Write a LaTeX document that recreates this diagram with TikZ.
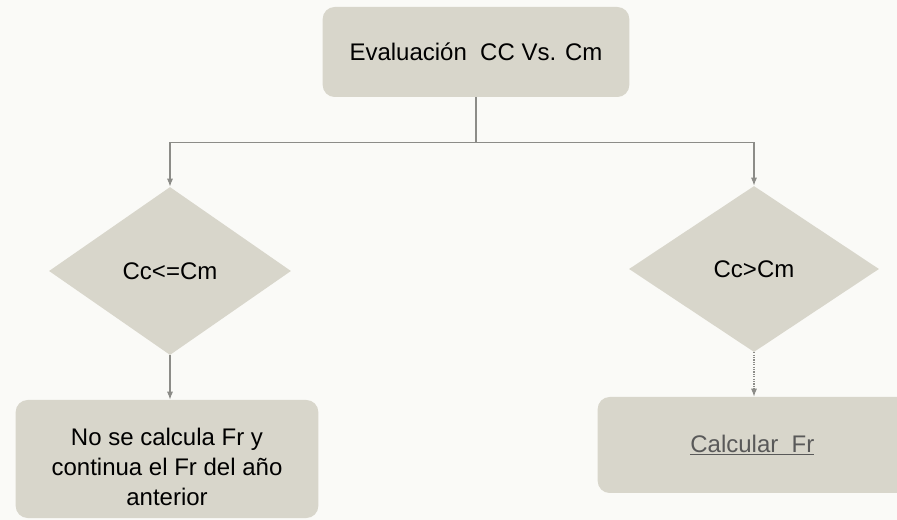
\documentclass[tikz,border=0pt]{standalone}
\usepackage{fontspec}
\setmainfont{Liberation Sans}
\usepackage{xcolor}
\usepackage{tikz}
\usetikzlibrary{shapes,shapes.geometric,arrows.meta,calc,positioning}
\tikzset{>={Latex[length=6pt,width=4.5pt]}}
\definecolor{boxfill}{RGB}{216,214,203}
\definecolor{linegray}{RGB}{140,140,136}
\definecolor{paper}{RGB}{250,250,247}
\tikzset{
  roundbox/.style={rectangle, rounded corners=9pt, fill=boxfill, inner sep=2pt, align=center,
                   font=\fontsize{18}{22.5}\selectfont},
  decision/.style={diamond, fill=boxfill, inner sep=0pt, aspect=1.45,
                   font=\fontsize{18}{22.5}\selectfont},
  boxtext/.style={align=center, inner sep=0pt, font=\fontsize{18}{22.5}\selectfont},
  link/.style={draw=linegray, line width=0.8pt},
}

\begin{document}
\begin{tikzpicture}[x=0.75pt, y=-0.75pt]
  \fill[paper] (0,0) rectangle (897,520);
  \useasboundingbox (0,0) rectangle (897,520);

  \node[roundbox, minimum width=230pt, minimum height=67.5pt] (eval) at (476,52) {Evaluación \ CC Vs. Cm};

  % two branches
  \node[decision, minimum width=181.5pt, minimum height=126pt] (menor) at (170,271) {Cc<=Cm};
  \node[decision, minimum width=187.5pt, minimum height=124.5pt] (mayor) at (754,269) {Cc>Cm};

  \node[roundbox, minimum width=227pt, minimum height=88.5pt] (sigue) at (167,459) {};
  \node[boxtext] (siguetxt) at ($(sigue.center)+(0,8)$) {No se calcula Fr y\\continua el Fr del año\\anterior};
  \node[roundbox, minimum width=245pt, minimum height=72pt, text=black!65] (calc) at (761,445)
    {\hspace*{-13pt}\underline{Calcular \ Fr}};

  \draw[link] (eval.south) -- ++(0,45) coordinate (fork);
  \draw[link,->] (fork) -| (menor.north);
  \draw[link,->] (fork) -| (mayor.north);
  \draw[link,->] (menor.south) -- (sigue.north -| menor.south);
  \draw[link,->,densely dotted] (mayor.south) -- (calc.north -| mayor.south);
\end{tikzpicture}
\end{document}
